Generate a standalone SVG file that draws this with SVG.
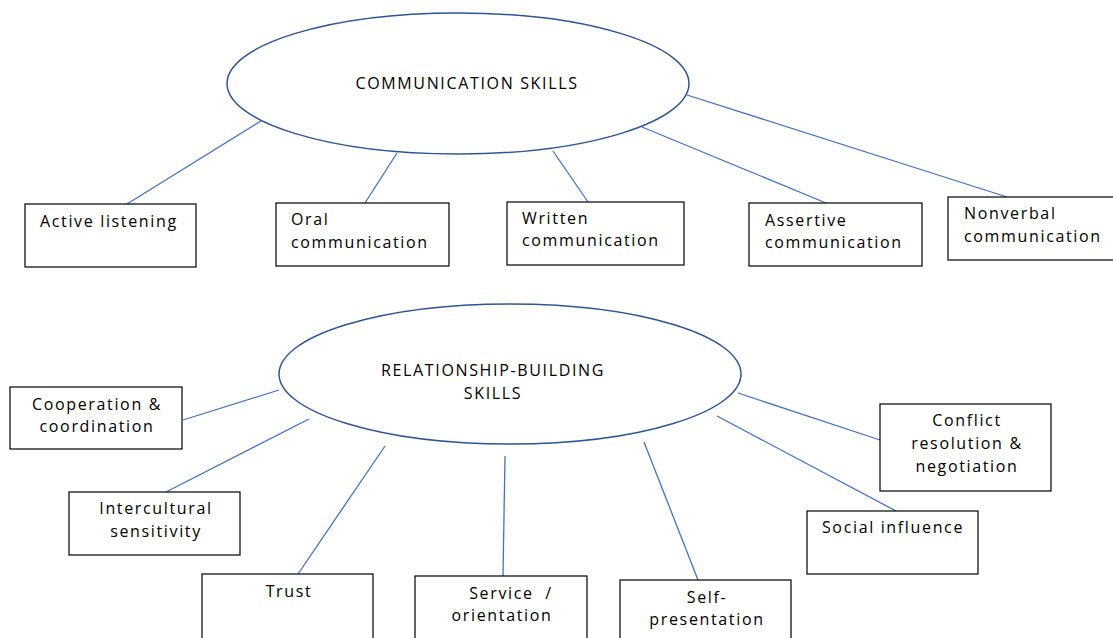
<svg xmlns="http://www.w3.org/2000/svg" width="1113" height="638" viewBox="0 0 1113 638">
<style>
.ell{fill:#fff;stroke:#2f5597;stroke-width:1.5}
.box{fill:#fff;stroke:#000;stroke-width:1.2}
.con line{stroke:#4472c4;stroke-width:1.3}
text{font-family:"Open Sans","Liberation Sans",sans-serif;font-size:16px;letter-spacing:1.65px;fill:#000}
.c{text-anchor:middle}
</style>
<rect width="1113" height="638" fill="#fff"/>
<g class="con">
<line x1="261" y1="121" x2="127" y2="204"/>
<line x1="397" y1="153" x2="365" y2="203"/>
<line x1="553" y1="151" x2="588" y2="202"/>
<line x1="642" y1="127" x2="826" y2="203"/>
<line x1="687" y1="95" x2="1007" y2="197"/>
<line x1="279" y1="390" x2="183" y2="420"/>
<line x1="309" y1="419" x2="166" y2="492"/>
<line x1="385" y1="446" x2="298" y2="574"/>
<line x1="505" y1="456" x2="503" y2="576"/>
<line x1="644" y1="442" x2="698" y2="580"/>
<line x1="717" y1="416" x2="896" y2="511"/>
<line x1="738" y1="393" x2="880" y2="440"/>
</g>
<g id="communication-skills">
<ellipse class="ell" cx="458" cy="83.5" rx="231" ry="70.5"/>
<text class="c" x="467" y="89">COMMUNICATION SKILLS</text>
</g>
<g id="active-listening">
<rect class="box" x="25" y="204" width="171" height="63"/>
<text x="40" y="227">Active listening</text>
</g>
<g id="oral-communication">
<rect class="box" x="276" y="203" width="173" height="63"/>
<text x="291" y="225">Oral</text>
<text x="291" y="248">communication</text>
</g>
<g id="written-communication">
<rect class="box" x="507" y="202" width="177" height="63"/>
<text x="522" y="224">Written</text>
<text x="522" y="246">communication</text>
</g>
<g id="assertive-communication">
<rect class="box" x="749" y="203" width="173" height="63"/>
<text x="765" y="226">Assertive</text>
<text x="765" y="248">communication</text>
</g>
<g id="nonverbal-communication">
<rect class="box" x="948" y="197" width="170" height="63"/>
<text x="964" y="219">Nonverbal</text>
<text x="964" y="242">communication</text>
</g>
<g id="relationship-building-skills">
<ellipse class="ell" cx="510" cy="374" rx="231" ry="70"/>
<text class="c" x="493" y="376">RELATIONSHIP-BUILDING</text>
<text class="c" x="493" y="399">SKILLS</text>
</g>
<g id="cooperation">
<rect class="box" x="10" y="387" width="172" height="62"/>
<text class="c" x="97" y="410">Cooperation &amp;</text>
<text class="c" x="97" y="432">coordination</text>
</g>
<g id="intercultural">
<rect class="box" x="69" y="492" width="171" height="63"/>
<text class="c" x="156" y="514">Intercultural</text>
<text class="c" x="156" y="537">sensitivity</text>
</g>
<g id="trust">
<rect class="box" x="202" y="574" width="171" height="70"/>
<text class="c" x="289" y="597">Trust</text>
</g>
<g id="service-orientation">
<rect class="box" x="415" y="576" width="172" height="70"/>
<text class="c" x="511" y="599" xml:space="preserve">Service  /</text>
<text class="c" x="502" y="621">orientation</text>
</g>
<g id="self-presentation">
<rect class="box" x="620" y="580" width="171" height="70"/>
<text class="c" x="707" y="603">Self-</text>
<text class="c" x="707" y="625">presentation</text>
</g>
<g id="social-influence">
<rect class="box" x="807" y="511" width="171" height="63"/>
<text class="c" x="893" y="533">Social influence</text>
</g>
<g id="conflict-resolution">
<rect class="box" x="880" y="404" width="171" height="87"/>
<text class="c" x="967" y="426">Conflict</text>
<text class="c" x="967" y="449">resolution &amp;</text>
<text class="c" x="967" y="472">negotiation</text>
</g>
</svg>
